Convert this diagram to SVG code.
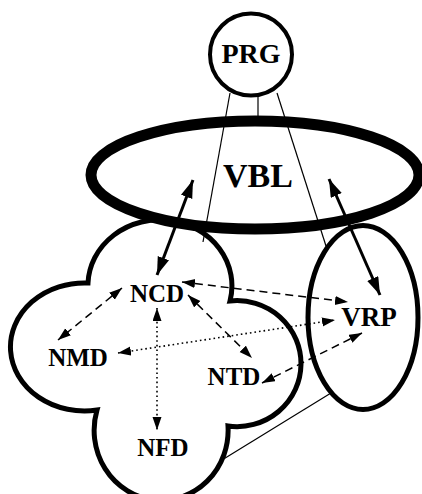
<svg xmlns="http://www.w3.org/2000/svg" width="422" height="494" viewBox="0 0 422 494">
<style>
.lbl{font-family:"Liberation Serif","Times New Roman",serif;font-weight:bold;fill:#000;text-anchor:middle}
.shape{fill:none;stroke:#000}
.thin{stroke:#000;stroke-width:1.2;fill:none}
.dash{stroke:#000;stroke-width:1.5;fill:none;stroke-dasharray:8,5}
.dot{stroke:#000;stroke-width:1.6;fill:none;stroke-dasharray:1.6,3}
.thick{stroke:#000;stroke-width:3;fill:none}
</style>
<defs>
<marker id="ah" markerUnits="userSpaceOnUse" markerWidth="14" markerHeight="10" refX="13" refY="4.5" orient="auto-start-reverse">
<path d="M0,0 L13,4.5 L0,9 z" fill="#000"/>
</marker>
<marker id="ahb" markerUnits="userSpaceOnUse" markerWidth="19" markerHeight="13" refX="18" refY="6" orient="auto-start-reverse">
<path d="M0,0 L18,6 L0,12 z" fill="#000"/>
</marker>
</defs>
<g id="connectors">
<line class="thin" x1="230" y1="93" x2="203" y2="242"/>
<line class="thin" x1="258" y1="97" x2="258" y2="118"/>
<line class="thin" x1="277" y1="93" x2="326" y2="246"/>
<line class="thin" x1="331" y1="393" x2="222" y2="460"/>
<line class="thick" x1="157" y1="275" x2="193" y2="180" marker-start="url(#ahb)" marker-end="url(#ahb)"/>
<line class="thick" x1="380" y1="295" x2="329" y2="179" marker-start="url(#ahb)" marker-end="url(#ahb)"/>
<line class="dash" x1="122" y1="288" x2="58" y2="340" marker-start="url(#ah)" marker-end="url(#ah)"/>
<line class="dash" x1="182" y1="282" x2="348" y2="302" marker-start="url(#ah)" marker-end="url(#ah)"/>
<line class="dash" x1="188" y1="295" x2="252" y2="358" marker-start="url(#ah)" marker-end="url(#ah)"/>
<line class="dot" x1="157" y1="308" x2="157" y2="430" marker-start="url(#ah)" marker-end="url(#ah)"/>
<line class="dot" x1="118" y1="353" x2="335" y2="320" marker-start="url(#ah)" marker-end="url(#ah)"/>
<line class="dash" x1="262" y1="383" x2="362" y2="333" marker-start="url(#ah)" marker-end="url(#ah)"/>
</g>
<g id="PRG">
<circle class="shape" cx="251" cy="54.5" r="41" stroke-width="4"/>
<text class="lbl" x="251" y="63" font-size="28">PRG</text>
</g>
<g id="VBL">
<ellipse class="shape" cx="255" cy="175" rx="164" ry="54" stroke-width="11"/>
<text class="lbl" x="258" y="187" font-size="34">VBL</text>
</g>
<g id="VRP">
<ellipse class="shape" cx="363" cy="317.5" rx="55" ry="92" stroke-width="5"/>
<text class="lbl" x="369" y="326" font-size="27">VRP</text>
</g>
<g id="cloud">
<path class="shape" stroke-width="5" d="M88,283 A72,66 0 1 1 230,301 A64,63 0 1 1 228,426 A67,70 0 1 1 97,410 A74,64 0 1 1 88,283 Z"/>
</g>
<g id="NCD"><text class="lbl" x="157" y="302" font-size="25">NCD</text></g>
<g id="NMD"><text class="lbl" x="78" y="366" font-size="25">NMD</text></g>
<g id="NTD"><text class="lbl" x="234" y="385" font-size="25">NTD</text></g>
<g id="NFD"><text class="lbl" x="163" y="456" font-size="25">NFD</text></g>
</svg>
